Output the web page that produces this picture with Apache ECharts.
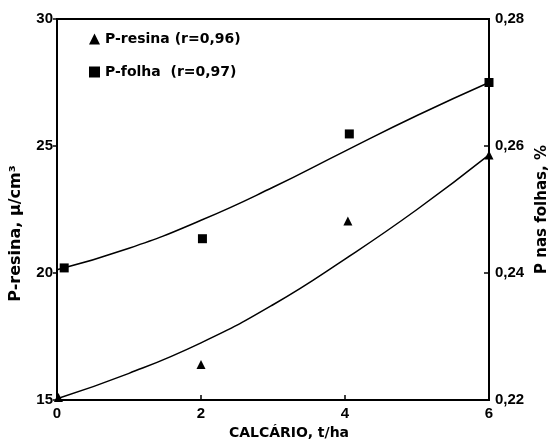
<!DOCTYPE html>
<html>
<head>
<meta charset="utf-8">
<script src="https://cdn.jsdelivr.net/npm/echarts@6/dist/echarts.min.js"></script>
<style>html,body{margin:0;padding:0;background:#fff}#c{width:552px;height:439px}</style>
</head>
<body>
<div id="c"></div>
<script>
// Observed points
const resinaX = [0.02, 2, 4.04, 6];
const resinaY = [15.1, 16.4, 22.05, 24.65];
const folhaX = [0.1, 2.02, 4.06, 6];
const folhaY = [0.2408, 0.2454, 0.2619, 0.2700];
// Fitted curves
const curveX = [0, 1, 2, 3, 4, 5, 6];
const resinaCurve = [15.05, 16.05, 17.25, 18.75, 20.55, 22.5, 24.65];
const folhaCurve = [0.2405, 0.2439, 0.2483, 0.2535, 0.2592, 0.2648, 0.2700];
// Tick labels
const xTicks = [0, 2, 4, 6];
const leftTicks = [15, 20, 25, 30];
const rightTicks = ['0,22', '0,24', '0,26', '0,28'];
const legendNames = ['P-resina (r=0,96)', 'P-folha  (r=0,97)'];

const font = 'Liberation Sans';
const wide = 'DejaVu Sans';
const zip = (a, b) => a.map((v, i) => [v, b[i]]);
const chart = echarts.init(document.getElementById('c'));
chart.setOption({
  animation: false,
  backgroundColor: '#fff',
  grid: {left: 57, right: 63, top: 19, bottom: 39, show: true, borderColor: '#000', borderWidth: 2,
    containLabel: false, outerBoundsMode: 'none'},
  legend: {
    orient: 'vertical', left: 84, top: 27, itemGap: 19, itemWidth: 11, itemHeight: 11,
    data: [{name: legendNames[0], icon: 'triangle'}, {name: legendNames[1], icon: 'rect'}],
    itemStyle: {opacity: 1},
    textStyle: {fontFamily: wide, fontWeight: 'bold', fontSize: 14, color: '#000'}
  },
  xAxis: {
    type: 'value', min: 0, max: 6, interval: 2,
    name: 'CALCÁRIO, t/ha', nameLocation: 'middle', nameGap: 26,
    nameTextStyle: {fontFamily: wide, fontWeight: 'bold', fontSize: 14, color: '#000', padding: [0, 0, 0, 32]},
    axisLine: {lineStyle: {color: '#000', width: 2}},
    axisTick: {inside: true, length: 5, lineStyle: {color: '#000', width: 1.5}},
    splitLine: {show: false},
    axisLabel: {fontFamily: font, fontWeight: 'bold', fontSize: 15, color: '#000', margin: 6,
      formatter: v => xTicks.includes(v) ? String(v) : ''}
  },
  yAxis: [{
    type: 'value', min: 15, max: 30, interval: 5, position: 'left',
    name: 'P-resina, μ/cm³', nameLocation: 'middle', nameGap: 33, nameRotate: 90,
    nameTextStyle: {fontFamily: wide, fontWeight: 'bold', fontSize: 16, color: '#000', padding: [0, 48, 0, 0]},
    axisLine: {show: true, lineStyle: {color: '#000', width: 2}},
    axisTick: {inside: false, length: 4, lineStyle: {color: '#000', width: 1.5}},
    splitLine: {show: false},
    axisLabel: {fontFamily: font, fontWeight: 'bold', fontSize: 15, color: '#000', margin: 4,
      formatter: v => leftTicks.includes(v) ? String(v) : ''}
  }, {
    type: 'value', min: 0.22, max: 0.28, interval: 0.02, position: 'right',
    name: 'P nas folhas, %', nameLocation: 'middle', nameGap: 43, nameRotate: 90,
    nameTextStyle: {fontFamily: wide, fontWeight: 'bold', fontSize: 15, color: '#000'},
    axisLine: {show: true, lineStyle: {color: '#000', width: 2}},
    axisTick: {inside: true, length: 5, lineStyle: {color: '#000', width: 1.5}},
    splitLine: {show: false},
    axisLabel: {fontFamily: font, fontWeight: 'bold', fontSize: 15, color: '#000', margin: 6,
      formatter: v => rightTicks[Math.round((v - 0.22) / 0.02)] || ''}
  }],
  series: [{
    name: legendNames[0], type: 'scatter', yAxisIndex: 0, symbol: 'triangle', symbolSize: 9,
    itemStyle: {color: '#000', opacity: 1}, data: zip(resinaX, resinaY), z: 5
  }, {
    name: legendNames[1], type: 'scatter', yAxisIndex: 1, symbol: 'rect', symbolSize: 9,
    itemStyle: {color: '#000', opacity: 1}, data: zip(folhaX, folhaY), z: 5
  }, {
    type: 'line', yAxisIndex: 0, smooth: true, showSymbol: false, symbol: 'none',
    lineStyle: {color: '#000', width: 1.5}, data: zip(curveX, resinaCurve)
  }, {
    type: 'line', yAxisIndex: 1, smooth: true, showSymbol: false, symbol: 'none',
    lineStyle: {color: '#000', width: 1.5}, data: zip(curveX, folhaCurve)
  }]
});
</script>
</body>
</html>
